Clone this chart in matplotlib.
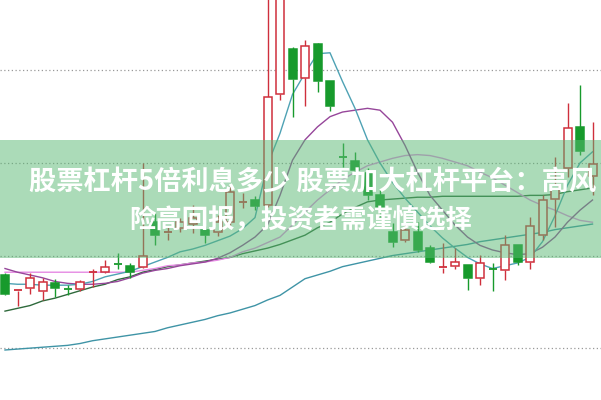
import matplotlib.pyplot as plt
from matplotlib.patches import Rectangle

# K线数据 (开, 高, 低, 收)
opens = [8.79, 8.62, 8.65, 8.62, 8.70, 8.645, 8.64, 8.82, 8.82, 8.915,
         8.89, 8.88, 9.36, 9.245, 9.30, 9.34, 9.28, 9.25, 9.36, 9.575,
         9.60, 9.55, 10.74, 11.23, 10.92, 11.29, 10.88, 10.07, 10.02, 9.89,
         9.65, 9.25, 9.17, 9.25, 9.08, 8.87, 8.89, 8.90, 8.76, 8.86,
         8.84, 9.11, 8.93, 9.22, 9.61, 9.95, 10.39, 9.86]
closes = [8.59, 8.63, 8.76, 8.71, 8.65, 8.635, 8.71, 8.83, 8.88, 8.905,
          8.82, 8.99, 9.22, 9.255, 9.36, 9.41, 9.22, 9.36, 9.69, 9.585,
          9.54, 10.71, 11.87, 10.91, 11.26, 10.89, 10.61, 10.06, 9.92, 9.65,
          9.51, 9.15, 9.28, 9.06, 8.93, 8.88, 8.93, 8.76, 8.92, 8.85,
          9.11, 8.93, 9.32, 9.60, 9.76, 10.38, 10.13, 9.99]
highs = [8.81, 8.63, 8.81, 8.76, 8.75, 8.68, 8.74, 8.86, 8.95, 9.03,
         8.92, 10.00, 9.46, 9.32, 9.41, 9.55, 9.32, 9.44, 9.76, 9.68,
         9.64, 11.98, 12.03, 11.25, 11.33, 11.30, 10.88, 10.22, 10.12, 9.95,
         9.71, 9.35, 9.35, 9.36, 9.11, 9.14, 9.08, 8.90, 9.01, 8.92,
         9.22, 9.11, 9.42, 9.65, 10.06, 10.65, 10.84, 10.44]
lows = [8.57, 8.46, 8.59, 8.52, 8.55, 8.57, 8.62, 8.66, 8.81, 8.86,
        8.76, 8.87, 9.11, 9.17, 9.25, 9.24, 9.14, 9.21, 9.33, 9.51,
        9.49, 9.52, 10.68, 10.50, 10.62, 10.77, 10.56, 9.96, 9.82, 9.60,
        9.42, 9.09, 9.15, 9.04, 8.92, 8.81, 8.86, 8.63, 8.68, 8.62,
        8.74, 8.90, 8.86, 9.17, 9.31, 9.85, 10.09, 9.65]

# 均线
ma5 = [8.70, 8.69, 8.69, 8.68, 8.68, 8.68, 8.69, 8.72, 8.77, 8.80,
       8.83, 8.88, 8.93, 8.98, 9.04, 9.07, 9.11, 9.16, 9.21, 9.29,
       9.41, 9.98, 10.32, 10.74, 10.97, 11.18, 11.19, 10.88, 10.59, 10.25,
       10.00, 9.79, 9.62, 9.47, 9.32, 9.19, 9.08, 8.98, 8.91, 8.86,
       8.89, 8.92, 8.98, 9.15, 9.43, 9.76, 10.00, 10.12]
ma10 = [8.86, 8.82, 8.79, 8.76, 8.72, 8.70, 8.69, 8.69, 8.70, 8.72,
        8.76, 8.81, 8.84, 8.86, 8.89, 8.91, 8.93, 8.97, 9.03, 9.11,
        9.20, 9.33, 9.65, 10.03, 10.25, 10.39, 10.50, 10.55, 10.57, 10.59,
        10.57, 10.44, 10.19, 9.90, 9.65, 9.49, 9.33, 9.20, 9.11, 9.06,
        9.03, 9.01, 9.02, 9.09, 9.20, 9.36, 9.49, 9.60]
ma20 = [8.82, 8.82, 8.82, 8.82, 8.82, 8.82, 8.82, 8.82, 8.82, 8.82,
        8.82, 8.84, 8.86, 8.89, 8.90, 8.92, 8.93, 8.95, 8.98, 9.04,
        9.08, 9.14, 9.20, 9.33, 9.47, 9.60, 9.71, 9.82, 9.90, 9.97,
        10.01, 10.05, 10.08, 10.09, 10.08, 10.05, 10.01, 9.97, 9.90, 9.84,
        9.76, 9.68, 9.60, 9.54, 9.49, 9.43, 9.38, 9.36]
ma30 = [8.40, 8.43, 8.46, 8.51, 8.54, 8.58, 8.62, 8.66, 8.69, 8.74,
        8.77, 8.82, 8.85, 8.88, 8.90, 8.92, 8.94, 8.96, 8.98, 9.02,
        9.05, 9.08, 9.12, 9.17, 9.22, 9.30, 9.36, 9.45, 9.52, 9.58,
        9.60, 9.61, 9.62, 9.63, 9.63, 9.64, 9.64, 9.64, 9.64, 9.64,
        9.64, 9.64, 9.65, 9.65, 9.66, 9.69, 9.71, 9.73]
ma60 = [7.98, 7.99, 8.00, 8.01, 8.02, 8.03, 8.05, 8.08, 8.10, 8.12,
        8.14, 8.16, 8.18, 8.22, 8.25, 8.28, 8.31, 8.35, 8.38, 8.42,
        8.46, 8.52, 8.57, 8.66, 8.75, 8.79, 8.83, 8.88, 8.91, 8.94,
        8.97, 9.00, 9.02, 9.04, 9.06, 9.08, 9.10, 9.12, 9.15, 9.17,
        9.19, 9.21, 9.23, 9.25, 9.28, 9.30, 9.32, 9.34]

grid_levels = [8, 9, 10, 11]

title_line1 = "股票杠杆5倍利息多少 股票加大杠杆平台：高风"
title_line2 = "险高回报，投资者需谨慎选择"

up_color = '#cf2f3c'
down_color = '#179a2c'

fig = plt.figure(figsize=(6.01, 4.0), dpi=100)
ax = fig.add_axes([0, 0, 1, 1])
ax.set_xlim(-0.4, 47.68)
ax.set_ylim(7.44, 11.76)
ax.axis('off')

# 虚线网格
for g in grid_levels:
    ax.axhline(g, color='#999999', lw=0.9, ls=(0, (1, 2)), zorder=1)

x = list(range(len(opens)))
ax.plot(x, ma60, color='#3f94a6', lw=1.0, zorder=2)
ax.plot(x, ma30, color='#2f6a3c', lw=1.0, zorder=2)
ax.plot(x, ma20, color='#e58ae3', lw=1.0, zorder=2)
ax.plot(x, ma10, color='#96469a', lw=1.0, zorder=2)
ax.plot(x, ma5, color='#4ea2b4', lw=1.0, zorder=2)

# 画K线
w = 0.64
for i in x:
    o, h, l, c = opens[i], highs[i], lows[i], closes[i]
    up = c >= o
    col = up_color if up else down_color
    top, bot = max(o, c), min(o, c)
    ax.vlines(i, top, h, color=col, lw=1.0, zorder=3)
    ax.vlines(i, l, bot, color=col, lw=1.0, zorder=3)
    if top - bot < 0.015:
        ax.hlines((o + c) / 2, i - w / 2, i + w / 2, color=col, lw=1.3, zorder=4)
    else:
        ax.add_patch(Rectangle((i - w / 2, bot), w, top - bot,
                               facecolor='white' if up else col,
                               edgecolor=col, lw=1.1, zorder=4))

# 半透明绿色横幅
ax.add_patch(Rectangle((0, 0.355), 1, 0.295, transform=ax.transAxes,
                       facecolor=(0.35, 0.72, 0.45), alpha=0.5,
                       edgecolor='none', zorder=10))

font = ['Noto Sans CJK SC', 'DejaVu Sans']
ax.text(0.521, 0.545, title_line1, transform=ax.transAxes, ha='center',
        va='center', color='white', fontsize=19.6, fontweight='bold',
        family=font, zorder=11)
ax.text(0.50, 0.4475, title_line2, transform=ax.transAxes, ha='center',
        va='center', color='white', fontsize=19, fontweight='bold',
        family=font, zorder=11)

fig.savefig('out.png', dpi=100)
